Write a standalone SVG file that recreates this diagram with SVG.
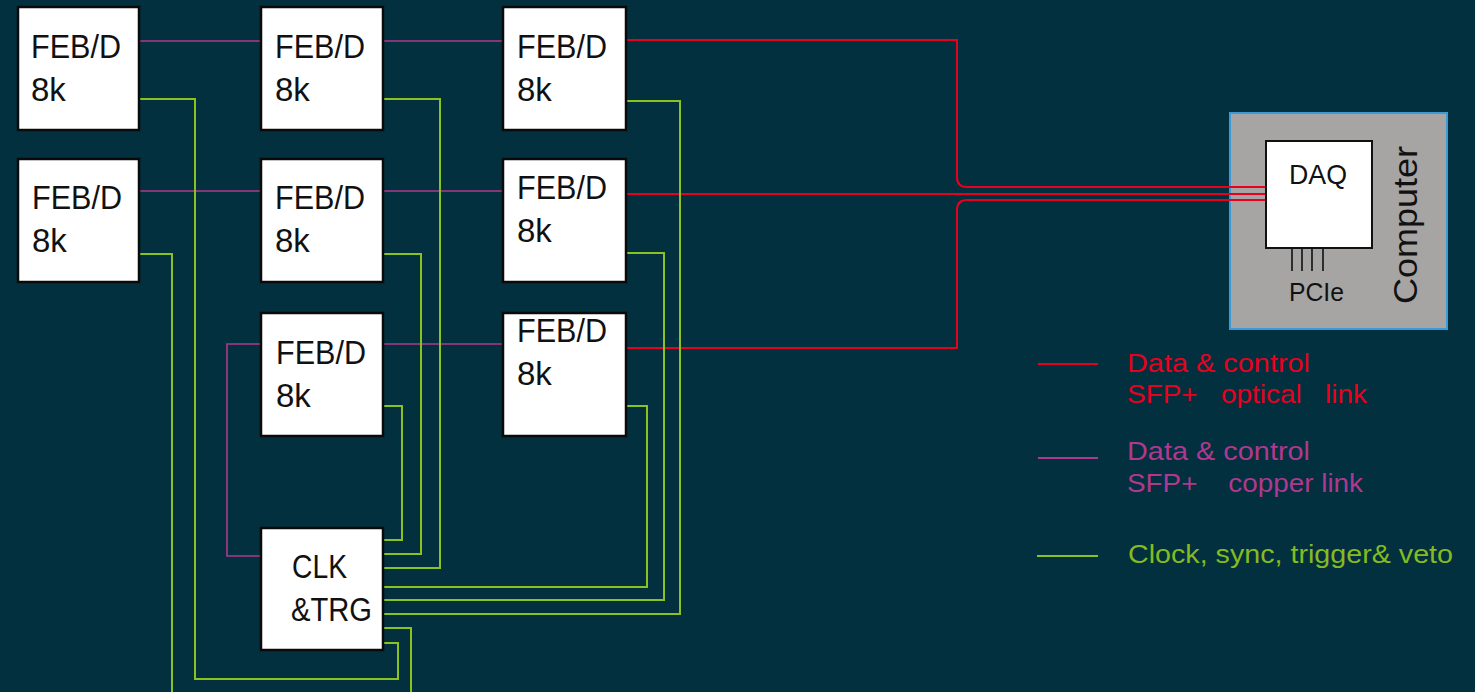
<svg xmlns="http://www.w3.org/2000/svg" width="1475" height="692" viewBox="0 0 1475 692">
<style>
.box{fill:#ffffff;stroke:#0a0a0a;stroke-width:2.5}
.bt{font-family:"Liberation Sans",Arial,sans-serif;font-size:33px;fill:#111111}
.cu{fill:none;stroke:#b0388e;stroke-width:1.6}
.op{fill:none;stroke:#e8001f;stroke-width:2}
.ck{fill:none;stroke:#8cc21e;stroke-width:2}
.lg{font-family:"Liberation Sans",Arial,sans-serif;font-size:26px;white-space:pre}
</style>
<rect x="0" y="0" width="1475" height="692" fill="#02303e"/>

<g id="computer">
  <rect x="1230" y="113" width="217" height="216" fill="#a6a5a3" stroke="#3d9ad6" stroke-width="2"/>
  <text x="1417" y="304" transform="rotate(-90 1417 304)" font-family="Liberation Sans,Arial,sans-serif" font-size="34" fill="#111111" textLength="158" lengthAdjust="spacingAndGlyphs">Computer</text>
</g>

<g id="connectors">
  <!-- copper links -->
  <path class="cu" d="M139,41 H261"/>
  <path class="cu" d="M383,41 H503"/>
  <path class="cu" d="M139,191 H261"/>
  <path class="cu" d="M383,191 H503"/>
  <path class="cu" d="M383,344 H503"/>
  <path class="cu" d="M261,344 H227 V556 H261"/>
  <!-- optical links -->
  <path class="op" d="M626,40 H957 V177 Q957,187 967,187 H1268"/>
  <path class="op" d="M626,194 H1268"/>
  <path class="op" d="M626,348 H957 V210 Q957,200 967,200 H1268"/>
  <!-- clock lines -->
  <path class="ck" d="M139,99 H195 V679 H398 V643 H383"/>
  <path class="ck" d="M139,254 H172 V692"/>
  <path class="ck" d="M383,628 H411 V692"/>
  <path class="ck" d="M383,406 H402 V540 H383"/>
  <path class="ck" d="M383,254 H421 V554 H383"/>
  <path class="ck" d="M383,99 H440 V568 H383"/>
  <path class="ck" d="M626,406 H647 V587 H383"/>
  <path class="ck" d="M626,253 H664 V600 H383"/>
  <path class="ck" d="M626,101 H680 V614 H383"/>
</g>

<g id="daq">
  <rect x="1266" y="141" width="106" height="107" fill="#ffffff" stroke="#111111" stroke-width="2"/>
  <text x="1289" y="184" font-family="Liberation Sans,Arial,sans-serif" font-size="28" fill="#111111" textLength="58" lengthAdjust="spacingAndGlyphs">DAQ</text>
  <path d="M1292,248 V271 M1302,248 V271 M1312,248 V271 M1323,248 V271" stroke="#111111" stroke-width="1.6"/>
  <text x="1289" y="301" font-family="Liberation Sans,Arial,sans-serif" font-size="26" fill="#111111" textLength="55" lengthAdjust="spacingAndGlyphs">PCIe</text>
</g>

<g id="feb-a"><rect class="box" x="18" y="7" width="121" height="123"/><text class="bt" x="31" y="58" textLength="90" lengthAdjust="spacingAndGlyphs">FEB/D</text><text class="bt" x="31" y="101">8k</text></g>
<g id="feb-b"><rect class="box" x="261" y="7" width="122" height="123"/><text class="bt" x="275" y="58" textLength="90" lengthAdjust="spacingAndGlyphs">FEB/D</text><text class="bt" x="275" y="101">8k</text></g>
<g id="feb-c"><rect class="box" x="503" y="7" width="123" height="123"/><text class="bt" x="517" y="58" textLength="90" lengthAdjust="spacingAndGlyphs">FEB/D</text><text class="bt" x="517" y="101">8k</text></g>
<g id="feb-d"><rect class="box" x="18" y="159" width="121" height="123"/><text class="bt" x="32" y="209" textLength="90" lengthAdjust="spacingAndGlyphs">FEB/D</text><text class="bt" x="32" y="252">8k</text></g>
<g id="feb-e"><rect class="box" x="261" y="159" width="122" height="123"/><text class="bt" x="275" y="209" textLength="90" lengthAdjust="spacingAndGlyphs">FEB/D</text><text class="bt" x="275" y="252">8k</text></g>
<g id="feb-f"><rect class="box" x="503" y="159" width="123" height="123"/><text class="bt" x="517" y="199" textLength="90" lengthAdjust="spacingAndGlyphs">FEB/D</text><text class="bt" x="517" y="242">8k</text></g>
<g id="feb-g"><rect class="box" x="261" y="313" width="122" height="123"/><text class="bt" x="276" y="364" textLength="90" lengthAdjust="spacingAndGlyphs">FEB/D</text><text class="bt" x="276" y="407">8k</text></g>
<g id="feb-h"><rect class="box" x="503" y="313" width="123" height="123"/><text class="bt" x="517" y="342" textLength="90" lengthAdjust="spacingAndGlyphs">FEB/D</text><text class="bt" x="517" y="385">8k</text></g>
<g id="clk-trg"><rect class="box" x="261" y="528" width="122" height="122"/><text class="bt" x="292" y="578" textLength="55" lengthAdjust="spacingAndGlyphs">CLK</text><text class="bt" x="291" y="621" textLength="81" lengthAdjust="spacingAndGlyphs">&amp;TRG</text></g>

<g id="legend">
  <path d="M1038,364 H1098" stroke="#e8001f" stroke-width="2"/>
  <text class="lg" x="1127" y="372" fill="#e8001f" textLength="183" lengthAdjust="spacingAndGlyphs">Data &amp; control</text>
  <text class="lg" x="1127" y="403" fill="#e8001f" textLength="240" lengthAdjust="spacingAndGlyphs">SFP+   optical   link</text>
  <path d="M1038,458 H1098" stroke="#b0388e" stroke-width="2"/>
  <text class="lg" x="1127" y="460" fill="#b0388e" textLength="183" lengthAdjust="spacingAndGlyphs">Data &amp; control</text>
  <text class="lg" x="1127" y="492" fill="#b0388e" textLength="236" lengthAdjust="spacingAndGlyphs">SFP+    copper link</text>
  <path d="M1037,556 H1098" stroke="#8cc21e" stroke-width="2"/>
  <text class="lg" x="1128" y="563" fill="#86bb1f" textLength="325" lengthAdjust="spacingAndGlyphs">Clock, sync, trigger&amp; veto</text>
</g>
</svg>
